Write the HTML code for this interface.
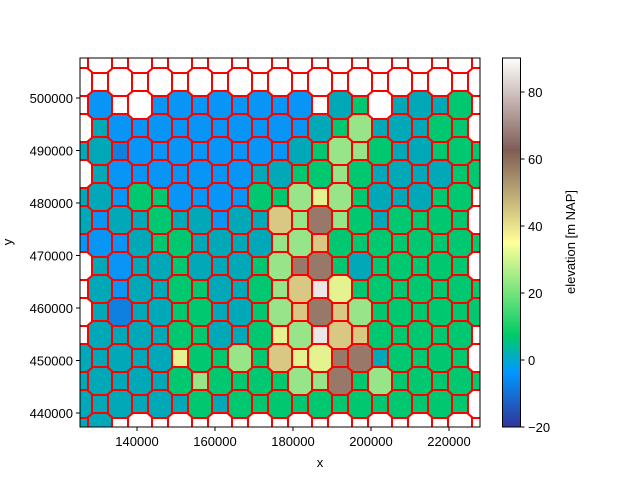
<!DOCTYPE html>
<html><head><meta charset="utf-8">
<style>
html,body{margin:0;padding:0;background:#fff;}
svg{display:block;font-family:"Liberation Sans","DejaVu Sans",sans-serif;}
</style></head>
<body>
<svg id="s" width="640" height="480" viewBox="0 0 640 480" xmlns="http://www.w3.org/2000/svg">
<defs>
<clipPath id="cp"><rect x="80" y="58" width="400" height="369"/></clipPath>
<linearGradient id="cb" x1="0" y1="0" x2="0" y2="1">
<stop offset="0" stop-color="#ffffff"/>
<stop offset="0.25" stop-color="#805c54"/>
<stop offset="0.5" stop-color="#ffff99"/>
<stop offset="0.75" stop-color="#00cc66"/>
<stop offset="0.85" stop-color="#0099ff"/>
<stop offset="1" stop-color="#333399"/>
</linearGradient>
</defs>
<rect width="640" height="480" fill="#fff"/>
<g id="cells" clip-path="url(#cp)"></g>
<rect x="80" y="58" width="400" height="369" fill="none" stroke="#000" stroke-width="1"/>
<g stroke="#000" stroke-width="1">
<line x1="137" y1="427" x2="137" y2="431"/><line x1="215" y1="427" x2="215" y2="431"/>
<line x1="293" y1="427" x2="293" y2="431"/><line x1="371" y1="427" x2="371" y2="431"/>
<line x1="449" y1="427" x2="449" y2="431"/>
<line x1="76" y1="98" x2="80" y2="98"/><line x1="76" y1="150.5" x2="80" y2="150.5"/>
<line x1="76" y1="203" x2="80" y2="203"/><line x1="76" y1="255.5" x2="80" y2="255.5"/>
<line x1="76" y1="308" x2="80" y2="308"/><line x1="76" y1="360.5" x2="80" y2="360.5"/>
<line x1="76" y1="413" x2="80" y2="413"/>
</g>
<g font-size="13" fill="#000" text-anchor="middle">
<text x="137" y="446">140000</text><text x="215" y="446">160000</text>
<text x="293" y="446">180000</text><text x="371" y="446">200000</text>
<text x="449" y="446">220000</text>
<text x="320" y="467">x</text>
</g>
<g font-size="13" fill="#000" text-anchor="end">
<text x="73" y="103">500000</text><text x="73" y="155.5">490000</text>
<text x="73" y="208">480000</text><text x="73" y="260.5">470000</text>
<text x="73" y="313">460000</text><text x="73" y="365.5">450000</text>
<text x="73" y="418">440000</text>
</g>
<text x="12" y="242" font-size="13" text-anchor="middle" transform="rotate(-90 12 242)">y</text>
<rect x="502.5" y="58" width="18" height="369" fill="url(#cb)" stroke="#000" stroke-width="1"/>
<g stroke="#000" stroke-width="1">
<line x1="520.5" y1="92" x2="524.5" y2="92"/><line x1="520.5" y1="159" x2="524.5" y2="159"/>
<line x1="520.5" y1="226" x2="524.5" y2="226"/><line x1="520.5" y1="293" x2="524.5" y2="293"/>
<line x1="520.5" y1="360" x2="524.5" y2="360"/><line x1="520.5" y1="427" x2="524.5" y2="427"/>
</g>
<g font-size="13" fill="#000">
<text x="528" y="97">80</text><text x="528" y="164">60</text><text x="528" y="231">40</text>
<text x="528" y="298">20</text><text x="528" y="365">0</text><text x="528" y="432">−20</text>
</g>
<text x="575" y="242" font-size="13" text-anchor="middle" transform="rotate(-90 575 242)">elevation [m NAP]</text>
</svg>
<script>
var C={W:"#ffffff",B:"#0895f5",D:"#1080e0",T:"#00a8b8",G:"#00c870",L:"#98e488",Y:"#e4f290",K:"#d8c884",N:"#987868",E:"#ece6e6"};
var rows=[
"WWWWWWWWWWWWWWWWWWWWW",
"WWWWWWWWWWWWWWWWWWWWW",
"WBWWBBBBBBBBWTGWTTTGW",
"WTBBBBBBBBBBTGLTTTGGW",
"TTDBBBBBBBBTGLLGTTGGG",
"WTBBBBBBBTTGGLGTTTTGG",
"TTBGGBBBBGGLYLGTTTGGW",
"TBTTGTTBTTKLNLGTGGGGW",
"BBBTGGTTTTLLKGGGGGGGG",
"WTBTTGTTTGLNNGTGGGGGW",
"WTBTTGGTTGLKEYGGGGGGG",
"WTDTTGGTTGLKNKLGGGGGG",
"WTTTTGGTTGYLEKKGGGGGW",
"TTTTTYGGLGKYYNNTGGGGW",
"TTTTTGLGGGGLLNGLGGGGG",
"TTTTTTGTGGGGGGGGGGGGW",
"TTWWWWWWWWWWWWWWWWWWW"];
var g=document.getElementById("cells"),h="";
for(var j=0;j<rows.length;j++){for(var i=0;i<21;i++){
var cx=80+20*i,cy=59+23*j,col=C[rows[j][i]]||"#fff",pts;
if((i+j)%2==1){
pts=[[12,-9.8],[12,9.8],[7.1,14],[-7.1,14],[-12,9.8],[-12,-9.8],[-7.1,-14],[7.1,-14]];
}else{
pts=[[8,-9],[8,9],[-8,9],[-8,-9]];
}
var p=pts.map(function(q){return (cx+q[0]).toFixed(1)+","+(cy+q[1]).toFixed(1)}).join(" ");
h+='<polygon points="'+p+'" fill="'+col+'" stroke="#ff0000" stroke-width="2" stroke-linejoin="round"/>';
}}
g.innerHTML=h;
</script>
</body></html>
